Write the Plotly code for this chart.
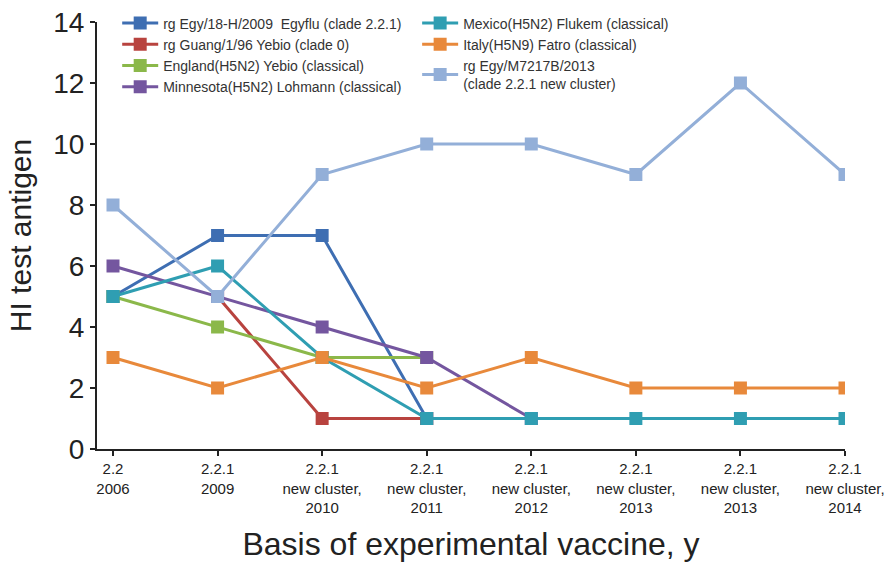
import plotly.graph_objects as go

categories = ["2.2<br>2006", "2.2.1<br>2009", "2.2.1<br>new cluster,<br>2010",
              "2.2.1<br>new cluster,<br>2011", "2.2.1<br>new cluster,<br>2012",
              "2.2.1<br>new cluster,<br>2013", "2.2.1<br>new cluster,<br>2013",
              "2.2.1<br>new cluster,<br>2014"]

egy_egyflu = [5, 7, 7, 1, None, None, None, None]
guang_yebio = [None, 5, 1, 1, None, None, None, None]
england_yebio = [5, 4, 3, 3, None, None, None, None]
minnesota_lohmann = [6, 5, 4, 3, 1, None, None, None]
mexico_flukem = [5, 6, 3, 1, 1, 1, 1, 1]
italy_fatro = [3, 2, 3, 2, 3, 2, 2, 2]
egy_m7217b = [8, 5, 9, 10, 10, 9, 12, 9]

series = [
    ("rg Egy/18-H/2009  Egyflu (clade 2.2.1)", egy_egyflu, "#3E6EB2", "legend"),
    ("rg Guang/1/96 Yebio (clade 0)", guang_yebio, "#B8433F", "legend"),
    ("England(H5N2) Yebio (classical)", england_yebio, "#8BB84A", "legend"),
    ("Minnesota(H5N2) Lohmann (classical)", minnesota_lohmann, "#74569F", "legend"),
    ("Mexico(H5N2) Flukem (classical)", mexico_flukem, "#2F9EB2", "legend2"),
    ("Italy(H5N9) Fatro (classical)", italy_fatro, "#E8893B", "legend2"),
    ("rg Egy/M7217B/2013<br>(clade 2.2.1 new cluster)", egy_m7217b, "#93AFD8", "legend2"),
]

xs = list(range(len(categories)))

fig = go.Figure()
for name, vals, color, leg in series:
    fig.add_trace(go.Scatter(
        x=xs, y=vals, name=name, mode="lines+markers",
        line=dict(color=color, width=3),
        marker=dict(symbol="square", size=13, color=color),
        legend=leg,
    ))

font_family = "Liberation Sans, Arial, sans-serif"
leg_font = dict(size=14, color="#333", family=font_family)
fig.update_layout(
    width=889, height=562,
    margin=dict(l=97, r=44, t=22, b=113, autoexpand=False),
    plot_bgcolor="white", paper_bgcolor="white",
    font=dict(family=font_family, color="#222"),
    showlegend=True,
    legend=dict(x=0.027, y=1.034, xanchor="left", yanchor="top",
                font=leg_font, bgcolor="rgba(0,0,0,0)",
                tracegroupgap=0, itemwidth=36),
    legend2=dict(x=0.428, y=1.034, xanchor="left", yanchor="top",
                 font=leg_font, bgcolor="rgba(0,0,0,0)",
                 tracegroupgap=0, itemwidth=36),
    xaxis=dict(
        range=[-0.153, 7.0], tickmode="array", tickvals=xs, ticktext=categories,
        showline=True, linecolor="#222", linewidth=2, ticks="outside",
        ticklen=5, tickwidth=2, tickcolor="#222", showgrid=False, zeroline=False,
        automargin=False,
        tickfont=dict(size=15, color="#222"),
        title=dict(text="Basis of experimental vaccine, y", font=dict(size=32, color="#222"), standoff=20),
    ),
    yaxis=dict(
        range=[0, 14], tickvals=[0, 2, 4, 6, 8, 10, 12, 14],
        showline=True, linecolor="#222", linewidth=2, ticks="outside",
        ticklen=5, tickwidth=2, tickcolor="#222", showgrid=False, zeroline=False,
        automargin=False,
        tickfont=dict(size=28, color="#222"),
        title=dict(text="HI test antigen", font=dict(size=30, color="#222"), standoff=13),
    ),
)

fig.write_html("out.html", config={"displayModeBar": False},
               post_script="document.body.style.margin='0';")
